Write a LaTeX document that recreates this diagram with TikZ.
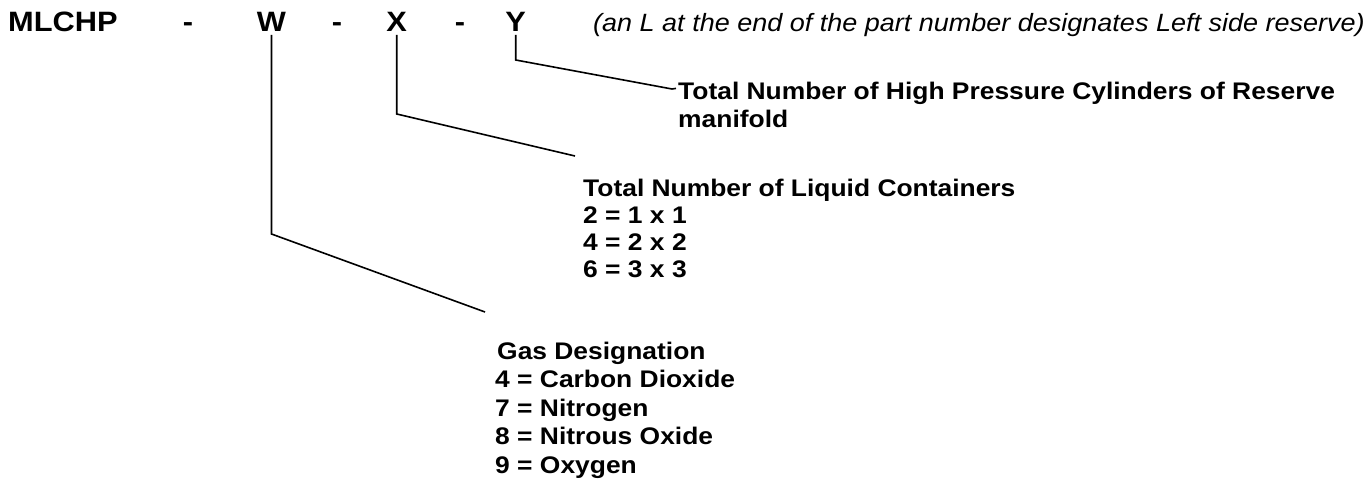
\documentclass[tikz,border=0pt]{standalone}
\usepackage{fontspec}
\setmainfont{Liberation Sans}
\begin{document}
\begin{tikzpicture}[x=1pt,y=-1pt,
  ttl/.style={font=\bfseries\fontsize{28}{32}\selectfont, xscale=1.1, inner sep=0pt, anchor=base},
  note/.style={font=\itshape\fontsize{25}{30}\selectfont, xscale=1.08, inner sep=0pt, anchor=base west},
  lbl/.style={font=\bfseries\fontsize{24}{28}\selectfont, xscale=1.1, inner sep=0pt, anchor=base west},
  lead/.style={draw=black, line width=1.6pt, line join=miter}]
\useasboundingbox (0,0) rectangle (1370,486);
% title line
\node[ttl, anchor=base west] (mlchp) at (8,31.7) {MLCHP};
\node[ttl] (d1) at (188,31.7) {-};
\node[ttl] (W) at (271.5,31.7) {W};
\node[ttl] (d2) at (337,31.7) {-};
\node[ttl] (X) at (396.7,31.7) {X};
\node[ttl] (d3) at (460,31.7) {-};
\node[ttl] (Y) at (515.7,31.7) {Y};
\node[note] (rem) at (593,32) {(an L at the end of the part number designates Left side reserve)};
% Y label
\node[lbl] (y1) at (678,100) {Total Number of High Pressure Cylinders of Reserve};
\node[lbl] (y2) at (678,127.5) {manifold};
% X label
\node[lbl] (x1) at (583,197) {Total Number of Liquid Containers};
\node[lbl] (x2) at (583,224) {2 = 1 x 1};
\node[lbl] (x3) at (583,251) {4 = 2 x 2};
\node[lbl] (x4) at (583,278) {6 = 3 x 3};
% W label
\node[lbl] (w1) at (497,359) {Gas Designation};
\node[lbl] (w2) at (495,387.5) {4 = Carbon Dioxide};
\node[lbl] (w3) at (495,416) {7 = Nitrogen};
\node[lbl] (w4) at (495,444.5) {8 = Nitrous Oxide};
\node[lbl] (w5) at (495,473) {9 = Oxygen};
% leader corners and ends
\coordinate (yc) at (515.7,60);
\coordinate (ye) at (672,89);
\coordinate (xc) at (396.7,114);
\coordinate (xe) at (575,156);
\coordinate (wc) at (271.5,234);
\coordinate (we) at (485,312);
\draw[lead, shorten <=3pt] (Y.south) -- (yc) -- (ye) -- ++(4,-0.6);
\draw[lead, shorten <=3pt] (X.south) -- (xc) -- (xe);
\draw[lead, shorten <=3pt] (W.south) -- (wc) -- (we);
\end{tikzpicture}
\end{document}
